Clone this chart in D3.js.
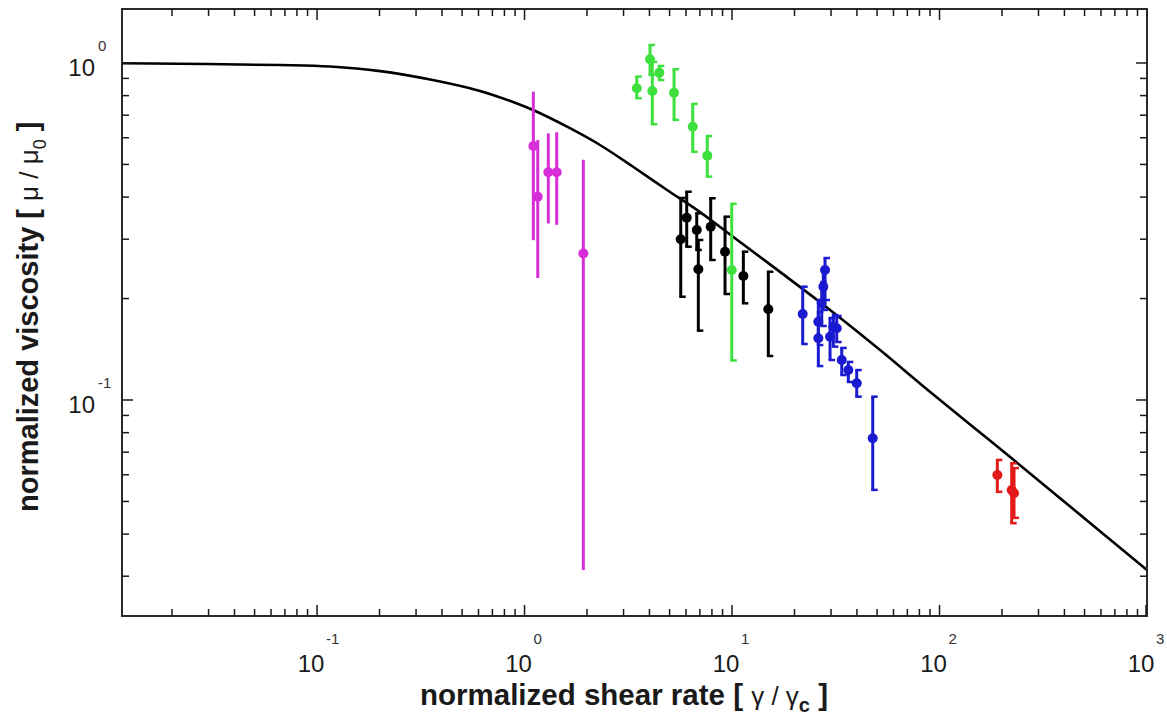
<!DOCTYPE html>
<html><head><meta charset="utf-8">
<script src="https://cdn.jsdelivr.net/npm/d3@7"></script>
<style>body{margin:0;background:#fff}svg{display:block}</style>
</head><body>
<svg id="c" width="1167" height="716"></svg>
<script>
// Model curve
const curveX = [0.01148, 0.0664, 0.1156, 0.2014, 0.351, 0.610, 0.880, 1.099, 1.603, 2.311, 3.334, 4.861, 7.01, 10.11, 17.03, 29.7, 51.7, 89.9, 175, 341, 1000];
const curveY = [0.998, 0.986, 0.976, 0.946, 0.893, 0.826, 0.766, 0.725, 0.647, 0.571, 0.492, 0.420, 0.361, 0.305, 0.240, 0.185, 0.1407, 0.1058, 0.0758, 0.0541, 0.0313];

// Magenta series
const magX  = [1.103, 1.158, 1.302, 1.429, 1.920];
const magY  = [0.567, 0.401, 0.474, 0.474, 0.272];
const magLo = [0.298, 0.230, 0.334, 0.331, 0.0313];
const magHi = [0.822, 0.591, 0.618, 0.623, 0.516];

// Green series
const grnX  = [3.474, 4.025, 4.129, 4.463, 5.255, 6.466, 7.60, 9.97];
const grnY  = [0.841, 1.026, 0.826, 0.936, 0.816, 0.647, 0.531, 0.243];
const grnLo = [0.786, 0.921, 0.658, 0.890, 0.678, 0.545, 0.460, 0.131];
const grnHi = [0.911, 1.131, 1.007, 0.980, 0.958, 0.756, 0.607, 0.382];

// Black series
const blkX  = [5.660, 6.048, 6.760, 6.881, 7.893, 9.253, 11.34, 14.96];
const blkY  = [0.2998, 0.3475, 0.3194, 0.2443, 0.3266, 0.2755, 0.2333, 0.1858];
const blkLo = [0.2025, 0.285, 0.2787, 0.1606, 0.2603, 0.2063, 0.1936, 0.1351];
const blkHi = [0.3976, 0.415, 0.358, 0.2984, 0.3968, 0.3499, 0.2755, 0.2402];

// Blue series
const bluX  = [21.91, 28.07, 27.54, 27.06, 26.06, 26.06, 29.68, 30.78, 31.96, 33.79, 36.35, 39.90, 47.66];
const bluY  = [0.1799, 0.243, 0.2169, 0.1936, 0.1707, 0.1524, 0.1541, 0.165, 0.1632, 0.1314, 0.1227, 0.1121, 0.077];
const bluLo = [0.1466, 0.198, 0.185, 0.1658, 0.1456, 0.1261, 0.1314, 0.144, 0.1486, 0.1186, 0.1131, 0.1023, 0.0541];
const bluHi = [0.2169, 0.2638, 0.2464, 0.2239, 0.198, 0.1824, 0.1751, 0.1787, 0.1775, 0.1427, 0.1297, 0.1227, 0.1023];

// Red series
const redX  = [190.0, 222.8, 228.6];
const redY  = [0.0599, 0.0541, 0.0529];
const redLo = [0.0534, 0.0431, 0.0447];
const redHi = [0.0664, 0.0649, 0.0628];

// Tick labels (exponents of 10)
const xTickExp = [-1, 0, 1, 2, 3];
const yTickExp = [-1, 0];

const xDomain = [0.01148, 1000];
const yDomain = [0.02286, 1.446];

const svg = d3.select("#c");
const L = 122, R = 1147, T = 9, B = 616;
const x = d3.scaleLog().domain(xDomain).range([L, R]);
const y = d3.scaleLog().domain(yDomain).range([B, T]);

const ink = "#1a1a1a";

// curve
const line = d3.line().x(d => x(d[0])).y(d => y(d[1])).curve(d3.curveCatmullRom.alpha(0.5));
svg.append("path").datum(curveX.map((v, i) => [v, curveY[i]]))
  .attr("d", line).attr("fill", "none").attr("stroke", "#000").attr("stroke-width", 2.6);

// series
const series = [
  {xs: magX, ys: magY, lo: magLo, hi: magHi, color: "#d82ed8", caps: false},
  {xs: grnX, ys: grnY, lo: grnLo, hi: grnHi, color: "#3ee03e", caps: true},
  {xs: blkX, ys: blkY, lo: blkLo, hi: blkHi, color: "#000000", caps: true},
  {xs: bluX, ys: bluY, lo: bluLo, hi: bluHi, color: "#1a1ad0", caps: true},
  {xs: redX, ys: redY, lo: redLo, hi: redHi, color: "#e41a1a", caps: true}
];
series.forEach(s => {
  const g = svg.append("g");
  const data = s.xs.map((v, i) => ({x: v, y: s.ys[i], lo: s.lo[i], hi: s.hi[i]}));
  g.selectAll("line.bar").data(data).enter().append("line")
    .attr("x1", d => x(d.x)).attr("x2", d => x(d.x))
    .attr("y1", d => y(d.lo)).attr("y2", d => y(d.hi))
    .attr("stroke", s.color).attr("stroke-width", 3);
  if (s.caps) {
    ["lo", "hi"].forEach(k => {
      g.selectAll("line.cap" + k).data(data).enter().append("line")
        .attr("x1", d => x(d.x) - 1.5).attr("x2", d => x(d.x) + 5)
        .attr("y1", d => y(d[k])).attr("y2", d => y(d[k]))
        .attr("stroke", s.color).attr("stroke-width", 2.5);
    });
  }
  g.selectAll("circle").data(data).enter().append("circle")
    .attr("cx", d => x(d.x)).attr("cy", d => y(d.y)).attr("r", 5)
    .attr("fill", s.color);
});

// frame
svg.append("rect").attr("x", L).attr("y", T).attr("width", R - L).attr("height", B - T)
  .attr("fill", "none").attr("stroke", "#2a2a2a").attr("stroke-width", 2);

// ticks
function logTicks(dom) {
  const out = [];
  const lo = Math.floor(Math.log10(dom[0])), hi = Math.ceil(Math.log10(dom[1]));
  for (let e = lo; e <= hi; e++) {
    for (let m = 1; m <= 9; m++) {
      const v = m * Math.pow(10, e);
      if (v >= dom[0] * 1.0001 && v <= dom[1] * 0.9999) out.push({v, major: m === 1});
    }
  }
  return out;
}
const xt = logTicks(xDomain), yt = logTicks(yDomain);
const tk = svg.append("g").attr("stroke", ink).attr("stroke-width", 1.5);
xt.forEach(t => {
  const len = t.major ? 11 : 7, px = x(t.v);
  tk.append("line").attr("x1", px).attr("x2", px).attr("y1", B).attr("y2", B - len);
  tk.append("line").attr("x1", px).attr("x2", px).attr("y1", T).attr("y2", T + len);
});
yt.forEach(t => {
  const len = t.major ? 11 : 7, py = y(t.v);
  tk.append("line").attr("x1", L).attr("x2", L + len).attr("y1", py).attr("y2", py);
  tk.append("line").attr("x1", R).attr("x2", R - len).attr("y1", py).attr("y2", py);
});
// 10^3 major tick at the right edge
tk.append("line").attr("x1", x(1000) - 1).attr("x2", x(1000) - 1).attr("y1", B).attr("y2", B - 11);

// tick labels
const font = "'Liberation Sans', Arial, sans-serif";
xTickExp.forEach(e => {
  const px = x(Math.pow(10, e));
  svg.append("text").attr("x", px - 6).attr("y", 672).attr("text-anchor", "middle")
    .attr("font-family", font).attr("font-size", 24).attr("fill", ink).text("10");
  svg.append("text").attr("x", px + 9).attr("y", 644).attr("text-anchor", "start")
    .attr("font-family", font).attr("font-size", 15).attr("fill", "#333").text(e);
});
yTickExp.forEach(e => {
  const py = y(Math.pow(10, e));
  svg.append("text").attr("x", 95).attr("y", py + 13).attr("text-anchor", "end")
    .attr("font-family", font).attr("font-size", 24).attr("fill", ink).text("10");
  svg.append("text").attr("x", 98).attr("y", py - 12).attr("text-anchor", "start")
    .attr("font-family", font).attr("font-size", 15).attr("fill", "#333").text(e);
});

// axis titles
const xt2 = svg.append("text").attr("x", 420).attr("y", 705)
  .attr("font-family", font).attr("font-size", 29.5).attr("fill", ink);
xt2.append("tspan").attr("font-weight", "bold").text("normalized shear rate [ ");
xt2.append("tspan").attr("font-weight", "normal").attr("font-size", 26).text("γ / γ");
xt2.append("tspan").attr("font-weight", "bold").attr("font-size", 20).attr("dy", 7).text("c");
xt2.append("tspan").attr("font-weight", "bold").attr("dy", -7).text(" ]");

const yt2 = svg.append("text").attr("transform", "translate(38,512) rotate(-90)")
  .attr("font-family", font).attr("font-size", 29).attr("fill", ink);
yt2.append("tspan").attr("font-weight", "bold").text("normalized viscosity [ ");
yt2.append("tspan").attr("font-weight", "normal").attr("font-size", 26).text("μ / μ");
yt2.append("tspan").attr("font-weight", "normal").attr("font-size", 18).attr("dy", 8).text("0");
yt2.append("tspan").attr("font-weight", "bold").attr("dy", -8).text(" ]");
</script>
</body></html>
